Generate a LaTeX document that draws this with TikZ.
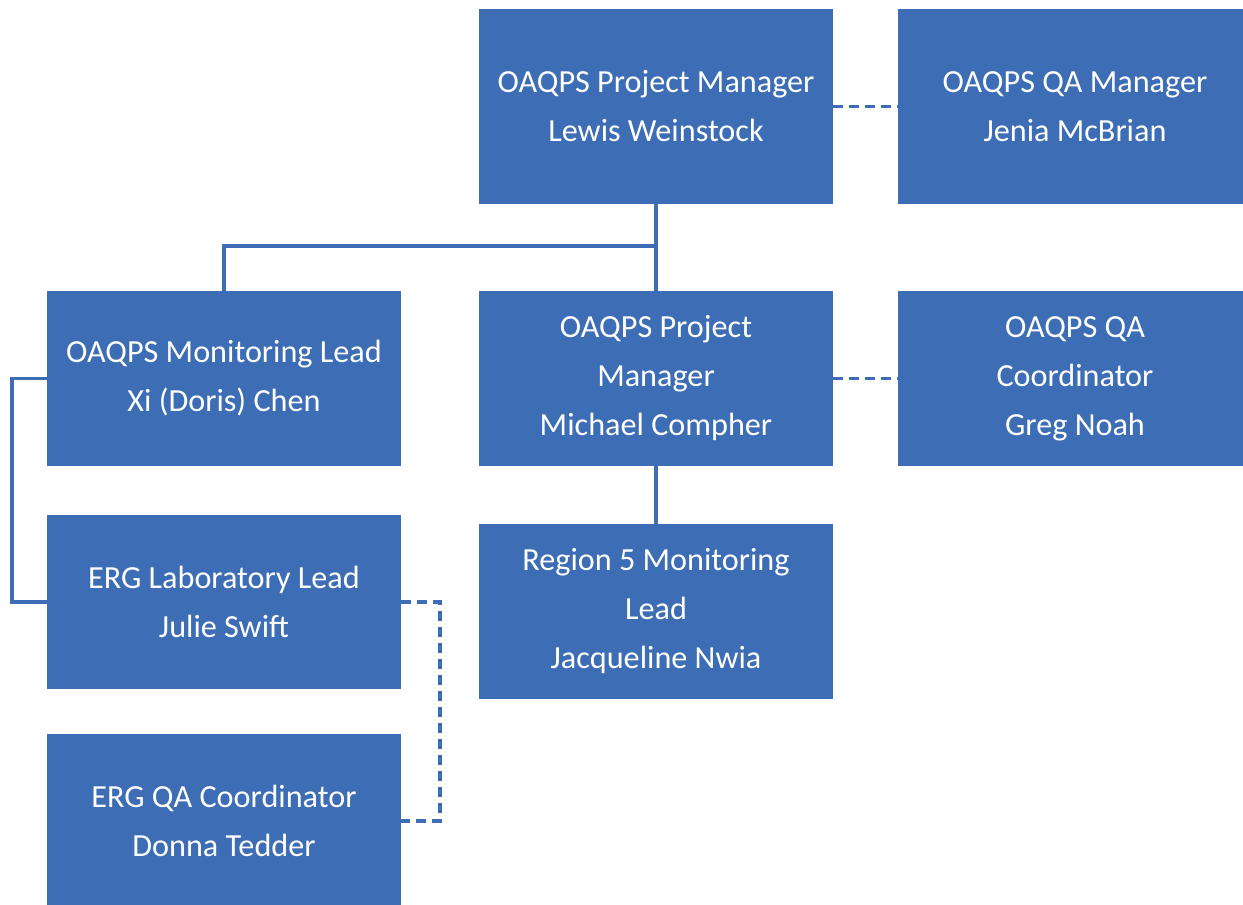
\documentclass[tikz,border=0pt]{standalone}
\usepackage{fontspec}
\setmainfont{Carlito}
\definecolor{boxblue}{RGB}{61,109,181}

\begin{document}
\begin{tikzpicture}[x=1pt, y=-1pt,
  box/.style={rectangle, fill=boxblue, text=white, inner sep=0pt, align=center,
    minimum width=354pt, font=\fontsize{32.2}{49}\selectfont},
  link/.style={boxblue, line width=3.5pt},
  dashlink/.style={boxblue, line width=3.5pt, dash pattern=on 10pt off 6pt}]
\useasboundingbox (0,0) rectangle (1243,905);

\node[box, minimum height=195pt] at (656, 106.5) (pmtop) {OAQPS Project Manager\\Lewis Weinstock};
\node[box, minimum height=195pt] at (1075, 106.5) (qamgr) {OAQPS QA Manager\\Jenia McBrian};
\node[box, minimum height=175pt] at (224, 378.5) (mon) {OAQPS Monitoring Lead\\Xi (Doris) Chen};
\node[box, minimum height=175pt] at (656, 378.5) (pm) {OAQPS Project\\Manager\\Michael Compher};
\node[box, minimum height=175pt] at (1075, 378.5) (qacoord) {OAQPS QA\\Coordinator\\Greg Noah};
\node[box, minimum height=174pt] at (224, 602) (lab) {ERG Laboratory Lead\\Julie Swift};
\node[box, minimum height=175pt] at (656, 611.5) (region) {Region 5 Monitoring\\Lead\\Jacqueline Nwia};
\node[box, minimum height=174pt] at (224, 821) (ergqa) {ERG QA Coordinator\\Donna Tedder};

\coordinate (split) at (656, 246);

\draw[link] (pmtop.south) -- (pm.north);
\draw[link] (split) -| (mon.north);
\draw[link] (pm.south) -- (region.north);
\draw[link] (mon.west) -- ++(-35,0) |- (lab.west);

\draw[dashlink] (pmtop.east) -- (qamgr.west);
\draw[dashlink] (pm.east) -- (qacoord.west);
\draw[dashlink] (lab.east) -- ++(39,0) |- (ergqa.east);
\end{tikzpicture}
\end{document}
